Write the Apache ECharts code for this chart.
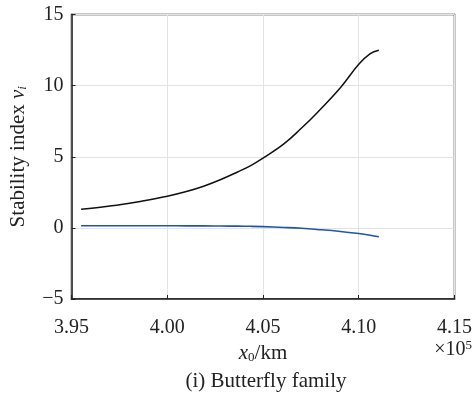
<!DOCTYPE html>
<html>
<head>
<meta charset="utf-8">
<script src="https://cdn.jsdelivr.net/npm/echarts@6/dist/echarts.min.js"></script>
<style>
  html, body { margin: 0; padding: 0; background: #fff; }
  #main { width: 475px; height: 395px; }
</style>
</head>
<body>
<div id="main"></div>
<script>
"use strict";
// x0 in units of 1e5 km
var xVals = [3.955, 3.965, 3.976, 3.985, 4.00, 4.01, 4.019, 4.028, 4.0367, 4.0436, 4.05, 4.0609, 4.07, 4.0783, 4.0904, 4.10, 4.106, 4.1105];
var upperVals = [1.31, 1.45, 1.64, 1.84, 2.23, 2.56, 2.93, 3.4, 3.93, 4.38, 4.9, 5.9, 7.0, 8.1, 9.85, 11.5, 12.25, 12.48];
var lowerVals = [0.15, 0.15, 0.15, 0.15, 0.15, 0.14, 0.14, 0.13, 0.12, 0.11, 0.09, 0.03, -0.03, -0.11, -0.25, -0.4, -0.52, -0.63];
var xTicks = [3.95, 4.00, 4.05, 4.10, 4.15];
var yTicks = [-5, 0, 5, 10, 15];

var font = "Liberation Serif";
var chartDom = document.getElementById('main');
var myChart = echarts.init(chartDom);

function pairs(xs, ys) {
    return xs.map(function (x, i) { return [x, ys[i]]; });
}

var option = {
    animation: false,
    backgroundColor: '#fff',
    textStyle: { fontFamily: font, color: '#222' },
    grid: {
        left: 70, right: 20, top: 14.5, bottom: 96,
        show: true, borderColor: '#222', borderWidth: 1.5
    },
    title: {
        text: '(i) Butterfly family',
        left: 261, top: 366, textAlign: 'center',
        textStyle: { fontFamily: font, fontSize: 21, fontWeight: 'normal', color: '#222' }
    },
    graphic: [{
        type: 'text',
        right: 3, top: 339,
        style: {
            text: '×10{s|5}',
            font: '20px ' + font,
            fill: '#222',
            rich: { s: { fontSize: 13, fontFamily: font, verticalAlign: 'top', padding: [0, 0, 8, 0] } }
        }
    }],
    xAxis: {
        type: 'value',
        min: xTicks[0], max: xTicks[xTicks.length - 1], interval: 0.05,
        name: '{i|x}{s|0}/km',
        nameLocation: 'middle', nameGap: 41,
        nameTextStyle: {
            fontFamily: font, fontSize: 21, color: '#222',
            rich: {
                i: { fontStyle: 'italic', fontFamily: font, fontSize: 21 },
                s: { fontFamily: font, fontSize: 13, padding: [9, 0, 0, 0] }
            }
        },
        axisLine: { onZero: false, lineStyle: { color: '#222', width: 1.5 } },
        axisTick: { inside: true, length: 4, lineStyle: { color: '#222' } },
        axisLabel: {
            fontFamily: font, fontSize: 20, color: '#222', margin: 19,
            formatter: function (v) { return v.toFixed(2); }
        },
        splitLine: { show: true, lineStyle: { color: '#e3e3e3', width: 1 } }
    },
    yAxis: {
        type: 'value',
        min: yTicks[0], max: yTicks[yTicks.length - 1], interval: 5,
        name: 'Stability index {i|v}{s|i}',
        nameLocation: 'middle', nameGap: 42, nameRotate: 90,
        nameTextStyle: {
            fontFamily: font, fontSize: 21, color: '#222',
            rich: {
                i: { fontStyle: 'italic', fontFamily: font, fontSize: 21 },
                s: { fontStyle: 'italic', fontFamily: font, fontSize: 13, padding: [9, 0, 0, 0] }
            }
        },
        axisLine: { onZero: false, lineStyle: { color: '#222', width: 1.5 } },
        axisTick: { inside: true, length: 4, lineStyle: { color: '#222' } },
        axisLabel: {
            fontFamily: font, fontSize: 20, color: '#222', margin: 8,
            formatter: function (v) { return v < 0 ? '\u2212' + Math.abs(v) : String(v); }
        },
        splitLine: { show: true, lineStyle: { color: '#e3e3e3', width: 1 } }
    },
    series: [{
        type: 'line',
        data: pairs(xVals, upperVals),
        smooth: 0.4,
        showSymbol: false,
        lineStyle: { color: '#111', width: 1.5 }
    }, {
        type: 'line',
        data: pairs(xVals, lowerVals),
        smooth: 0.4,
        showSymbol: false,
        lineStyle: { color: '#2255aa', width: 1.6 }
    }]
};
myChart.setOption(option);
</script>
</body>
</html>
